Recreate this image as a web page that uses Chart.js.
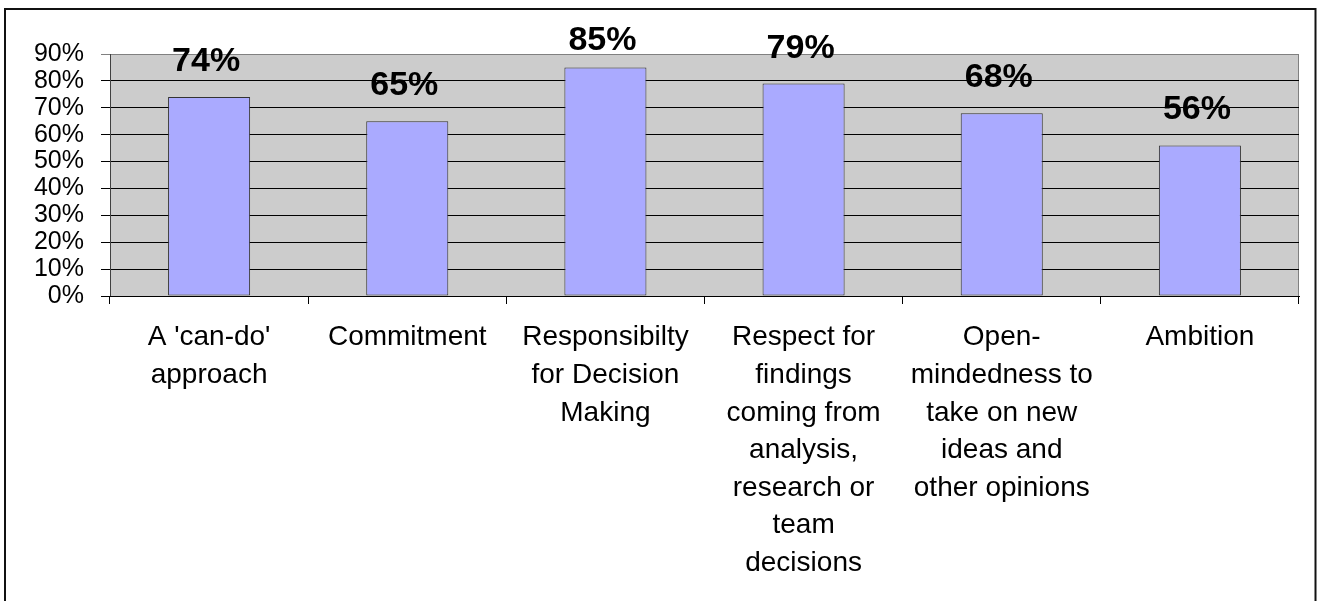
<!DOCTYPE html>
<html>
<head>
<meta charset="utf-8">
<script src="https://cdn.jsdelivr.net/npm/chart.js@4/dist/chart.umd.min.js"></script>
<style>
  body { margin: 0; background: #fff; }
  canvas { display: block; }
</style>
</head>
<body>
<canvas id="skillsChart" width="1319" height="601"></canvas>
<script>
// Chart data
const categories = [
    ["A 'can-do'", "approach"],
    ["Commitment"],
    ["Responsibilty", "for Decision", "Making"],
    ["Respect for", "findings", "coming from", "analysis,", "research or", "team", "decisions"],
    ["Open-", "mindedness to", "take on new", "ideas and", "other opinions"],
    ["Ambition"]
];
const percentValues = [74, 65, 85, 79, 68, 56];
const yTicks = [0, 10, 20, 30, 40, 50, 60, 70, 80, 90];

const textFont = 'Liberation Sans, Arial, sans-serif';

// Outer frame and grey plot background
const framePlugin = {
    id: 'frame',
    beforeDraw(chart) {
        const ctx = chart.ctx;
        const area = chart.chartArea;
        ctx.save();
        ctx.fillStyle = '#CCCCCC';
        ctx.fillRect(area.left, area.top, area.right - area.left, area.bottom - area.top);
        ctx.strokeStyle = '#808080';
        ctx.lineWidth = 1;
        ctx.strokeRect(area.left + 0.5, area.top + 0.5, area.right - area.left - 1, area.bottom - area.top);
        ctx.strokeStyle = '#111';
        ctx.lineWidth = 2;
        ctx.strokeRect(5, 9, 1310.5, 700);
        ctx.restore();
    }
};

// Bold value labels above each bar
const valueLabelPlugin = {
    id: 'valueLabels',
    afterDatasetsDraw(chart) {
        const ctx = chart.ctx;
        const meta = chart.getDatasetMeta(0);
        ctx.save();
        ctx.font = 'bold 34px ' + textFont;
        ctx.fillStyle = '#000';
        ctx.textAlign = 'center';
        ctx.textBaseline = 'alphabetic';
        meta.data.forEach((bar, i) => {
            const y = Math.max(bar.y - 26, 50);
            ctx.fillText(percentValues[i] + '%', bar.x - 3, y);
        });
        ctx.restore();
    }
};

const ctx = document.getElementById('skillsChart').getContext('2d');
const skillsChart = new Chart(ctx, {
    type: 'bar',
    data: {
        labels: categories,
        datasets: [{
            data: percentValues,
            backgroundColor: '#AAAAFF',
            borderColor: '#333333',
            borderWidth: 1,
            borderSkipped: false,
            categoryPercentage: 1,
            barPercentage: 0.414
        }]
    },
    options: {
        responsive: false,
        animation: false,
        layout: {
            padding: { top: 54, right: 20, left: 0, bottom: 0 }
        },
        scales: {
            y: {
                min: 0,
                max: 90,
                afterBuildTicks: function(scale) {
                    scale.ticks = yTicks.map(v => ({ value: v }));
                },
                afterFit: function(scale) {
                    scale.width = 110;
                },
                ticks: {
                    autoSkip: false,
                    padding: 17,
                    color: '#000',
                    font: { family: textFont, size: 25, lineHeight: 1 },
                    callback: function(value) {
                        return value + '%';
                    }
                },
                grid: {
                    color: function(c) {
                        return c.tick && c.tick.value === 90 ? '#808080' : '#000';
                    },
                    lineWidth: 1,
                    tickLength: 9
                },
                border: { color: '#404040', width: 1 }
            },
            x: {
                afterFit: function(scale) {
                    scale.height = 601 - 296;
                },
                ticks: {
                    autoSkip: false,
                    maxRotation: 0,
                    minRotation: 0,
                    padding: 15,
                    color: '#000',
                    font: { family: textFont, size: 28, lineHeight: 1.34 }
                },
                grid: {
                    drawOnChartArea: false,
                    drawTicks: true,
                    tickLength: 8,
                    color: '#000',
                    offset: true
                },
                border: { color: '#000', width: 1 }
            }
        },
        plugins: {
            legend: { display: false },
            tooltip: { enabled: false }
        }
    },
    plugins: [framePlugin, valueLabelPlugin]
});
</script>
</body>
</html>
